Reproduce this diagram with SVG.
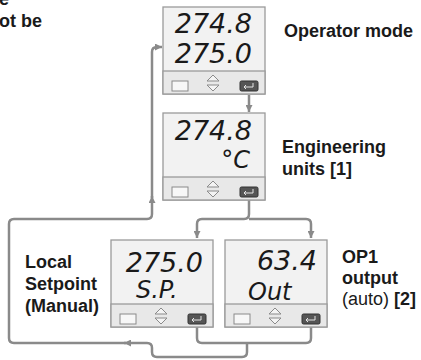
<svg xmlns="http://www.w3.org/2000/svg" xmlns:xlink="http://www.w3.org/1999/xlink" width="421" height="360" viewBox="0 0 421 360">
<style>
.lbl{font-family:"Liberation Sans",Arial,sans-serif;font-weight:bold;font-size:18px;fill:#1a1a1a}
.reg{font-weight:normal}
.lcd{font-family:"DejaVu Sans",sans-serif;font-style:oblique;font-weight:300;font-size:27px;fill:#1a1a1a}
.lcds{font-size:24px}
.frame{fill:#f2f2f2;stroke:#9a9a9a;stroke-width:1.3}
.keys{fill:#e8e8e8;stroke:#9a9a9a;stroke-width:1.3}
.conn{fill:none;stroke:#8a8a8a;stroke-width:2.5;stroke-linejoin:round}
</style>
<defs>
<marker id="ah" viewBox="0 0 8 8" refX="8" refY="4" markerWidth="7" markerHeight="7" markerUnits="userSpaceOnUse" orient="auto">
<path d="M0,0 L8,4 L0,8 Z" fill="#8a8a8a"/>
</marker>
<g id="panel">
<rect class="frame" x="0" y="0" width="102" height="87"/>
<rect class="keys" x="0" y="64" width="102" height="23"/>
<rect x="9" y="74" width="16" height="10" fill="#f7f7f7" stroke="#8a8a8a" stroke-width="1"/>
<path d="M44,74 L50,68 L56,74 Z M44,78 L50,84 L56,78 Z" fill="#f4f4f4" stroke="#8a8a8a" stroke-width="1"/>
<rect x="77" y="74" width="18" height="10" rx="1.5" fill="#555" stroke="#333" stroke-width="1"/>
<path d="M90,76 V80 H81 M83,78 L81,80 L83,82" fill="none" stroke="#e6e6e6" stroke-width="1"/>
</g>
</defs>

<g id="connectors">
<path class="conn" d="M249,95 V112" marker-end="url(#ah)"/>
<path class="conn" d="M249,199 V214 Q249,219 244,219 H202 Q197,219 197,224 V238" marker-end="url(#ah)"/>
<path class="conn" d="M249,219 H306 Q311,219 311,224 V238" marker-end="url(#ah)"/>
<path class="conn" d="M197,327 V338 Q197,343 202,343 H306 Q311,343 311,338 V327"/>
<path class="conn" d="M247,343 V352 Q247,357 242,357 H157 Q152,357 152,352 V348 Q152,343 147,343 H124" marker-end="url(#ah)"/>
<path class="conn" d="M126,343 H14 Q9,343 9,338 V224 Q9,219 14,219 H147 Q152,219 152,214 V196" marker-end="url(#ah)"/>
<path class="conn" d="M152,198 V52 Q152,47 157,47 H162" marker-end="url(#ah)"/>
</g>

<g id="operator-mode">
<use xlink:href="#panel" x="163" y="7"/>
<text class="lcd" x="252" y="33" text-anchor="end">274.8</text>
<text class="lcd" x="252" y="63" text-anchor="end">275.0</text>
<text class="lbl" x="284" y="37">Operator mode</text>
</g>

<g id="engineering-units">
<use xlink:href="#panel" x="163" y="113"/>
<text class="lcd" x="252" y="140" text-anchor="end">274.8</text>
<text class="lcd lcds" x="250" y="168" text-anchor="end">°C</text>
<text class="lbl" x="282" y="153">Engineering</text>
<text class="lbl" x="282" y="175">units [1]</text>
</g>

<g id="local-setpoint">
<use xlink:href="#panel" x="111" y="240"/>
<text class="lcd" x="203" y="272" text-anchor="end">275.0</text>
<text class="lcd lcds" x="136" y="298">S.P.</text>
<text class="lbl" x="25" y="268">Local</text>
<text class="lbl" x="25" y="290">Setpoint</text>
<text class="lbl" x="25" y="312">(Manual)</text>
</g>

<g id="op1-output">
<use xlink:href="#panel" x="225" y="240"/>
<text class="lcd" x="317" y="270" text-anchor="end">63.4</text>
<text class="lcd lcds" x="248" y="300">Out</text>
<text class="lbl" x="342" y="263">OP1</text>
<text class="lbl" x="342" y="284">output</text>
<text class="lbl" x="342" y="305"><tspan class="reg">(auto)</tspan> [2]</text>
</g>

<g id="cut-text">
<text class="lbl" x="-1" y="5">e</text>
<text class="lbl" x="-1" y="27">ot be</text>
</g>
</svg>
